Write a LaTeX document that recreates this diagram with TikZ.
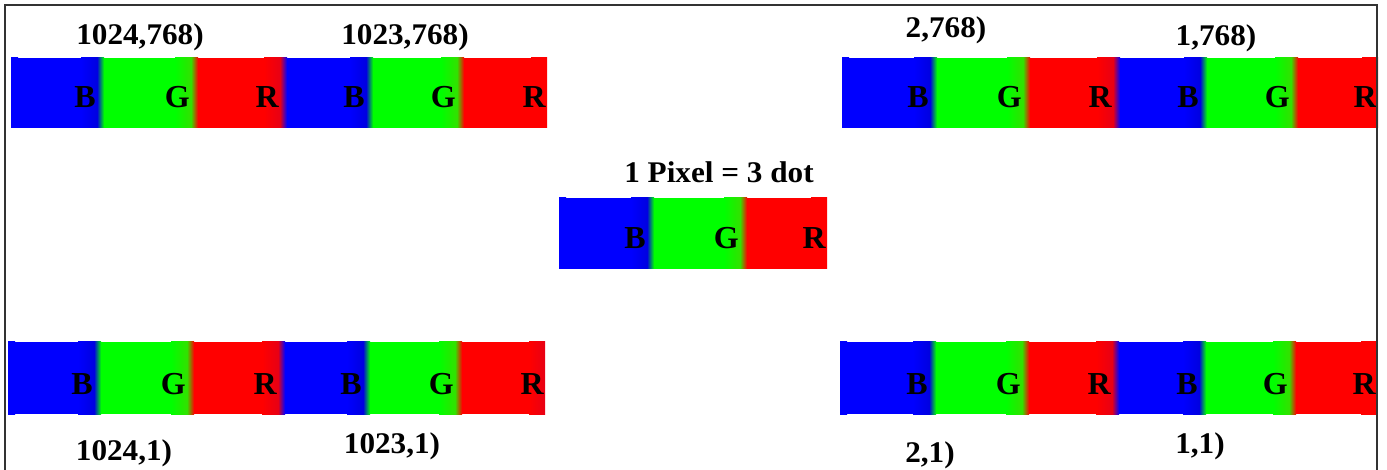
\documentclass[tikz,border=0pt]{standalone}
\usepackage{fontspec}
\setmainfont{Liberation Serif}

\definecolor{dotblue}{RGB}{0,0,255}
\definecolor{dotgreen}{RGB}{0,255,0}
\definecolor{dotred}{RGB}{255,0,0}
\definecolor{dotblueend}{RGB}{0,0,225}
\definecolor{dotgreenend}{RGB}{50,225,0}
\definecolor{dotredend}{RGB}{232,0,20}

\tikzset{
  frameline/.style={draw=black!80, line width=1.3pt},
  dotletter/.style={font=\fontsize{32}{32}\selectfont\bfseries, inner sep=0pt, text=black},
  coordlabel/.style={font=\fontsize{30}{30}\selectfont\bfseries, inner sep=0pt, anchor=base},
}

% one row of colour dots: #1 name, #2 top, #3 bottom, #4 letter baseline, #5 cells
% each cell: left/right/colour/colour at right end/colour arriving from the left/letter
\newcommand{\pixrow}[5]{%
  \foreach \a/\b/\c/\e/\p/\l in {#5} {
    \fill[\c] (\a,#2) rectangle (\b,#3);
    \shade[left color=\c, right color=\e] (\b-16,#2) rectangle (\b,#3);
    \shade[left color=\p, right color=\c] (\a,#2) rectangle (\a+7,#3);
  }
  \foreach \a/\b/\c/\e/\p/\l [count=\i] in {#5} {
    \node[dotletter, anchor=base east] (#1-\i) at (\b-1,#4) {\l};
  }
}

\begin{document}
\begin{tikzpicture}[x=1pt, y=-1pt]
\useasboundingbox (0,0) rectangle (1387,470);

% upper left: pixels (1024,768) and (1023,768)
\pixrow{tl}{58}{128}{108}{
  11/97/dotblue/dotblueend/dotblue/B,
  97/191/dotgreen/dotgreenend/dotblueend/G,
  191/280/dotred/dotredend/dotgreenend/R,
  280/366/dotblue/dotblueend/dotredend/B,
  366/457/dotgreen/dotgreenend/dotblueend/G,
  457/547/dotred/dotred/dotgreenend/R}

% upper right: pixels (2,768) and (1,768)
\pixrow{tr}{58}{128}{108}{
  842/930/dotblue/dotblueend/dotblue/B,
  930/1023/dotgreen/dotgreenend/dotblueend/G,
  1023/1113/dotred/dotredend/dotgreenend/R,
  1113/1200/dotblue/dotblueend/dotredend/B,
  1200/1291/dotgreen/dotgreenend/dotblueend/G,
  1291/1378/dotred/dotred/dotgreenend/R}

% single pixel in the middle
\pixrow{mid}{198}{269}{249}{
  559/647/dotblue/dotblueend/dotblue/B,
  647/740/dotgreen/dotgreenend/dotblueend/G,
  740/827/dotred/dotred/dotgreenend/R}

% lower left: pixels (1024,1) and (1023,1)
\pixrow{bl}{342}{414}{394}{
  8/94/dotblue/dotblueend/dotblue/B,
  94/187/dotgreen/dotgreenend/dotblueend/G,
  187/278/dotred/dotredend/dotgreenend/R,
  278/363/dotblue/dotblueend/dotredend/B,
  363/455/dotgreen/dotgreenend/dotblueend/G,
  455/545/dotred/dotredend/dotgreenend/R}

% lower right: pixels (2,1) and (1,1)
\pixrow{br}{342}{414}{394}{
  840/929/dotblue/dotblueend/dotblue/B,
  929/1022/dotgreen/dotgreenend/dotblueend/G,
  1022/1112/dotred/dotredend/dotgreenend/R,
  1112/1199/dotblue/dotblueend/dotredend/B,
  1199/1289/dotgreen/dotgreenend/dotblueend/G,
  1289/1377/dotred/dotred/dotgreenend/R}

% coordinate labels
\node[coordlabel] (c1024top) at (140,45) {\scalebox{1.04}[1]{1024,768)}};
\node[coordlabel] (c1023top) at (405,45) {\scalebox{1.04}[1]{1023,768)}};
\node[coordlabel] (c2top)    at (946,38) {\scalebox{1.04}[1]{2,768)}};
\node[coordlabel] (c1top)    at (1216,46) {\scalebox{1.04}[1]{1,768)}};
\node[coordlabel] (title)    at (719,183) {\scalebox{1.04}[1]{1 Pixel = 3 dot}};
\node[coordlabel] (c1024bot) at (124,460) {\scalebox{1.04}[1]{1024,1)}};
\node[coordlabel] (c1023bot) at (392,453) {\scalebox{1.04}[1]{1023,1)}};
\node[coordlabel] (c2bot)    at (930,462) {\scalebox{1.04}[1]{2,1)}};
\node[coordlabel] (c1bot)    at (1200,453) {\scalebox{1.04}[1]{1,1)}};

% open frame round the sheet
\draw[frameline] (5,470) -- (5,5) -- (1377,5) -- (1377,470);
\end{tikzpicture}
\end{document}
